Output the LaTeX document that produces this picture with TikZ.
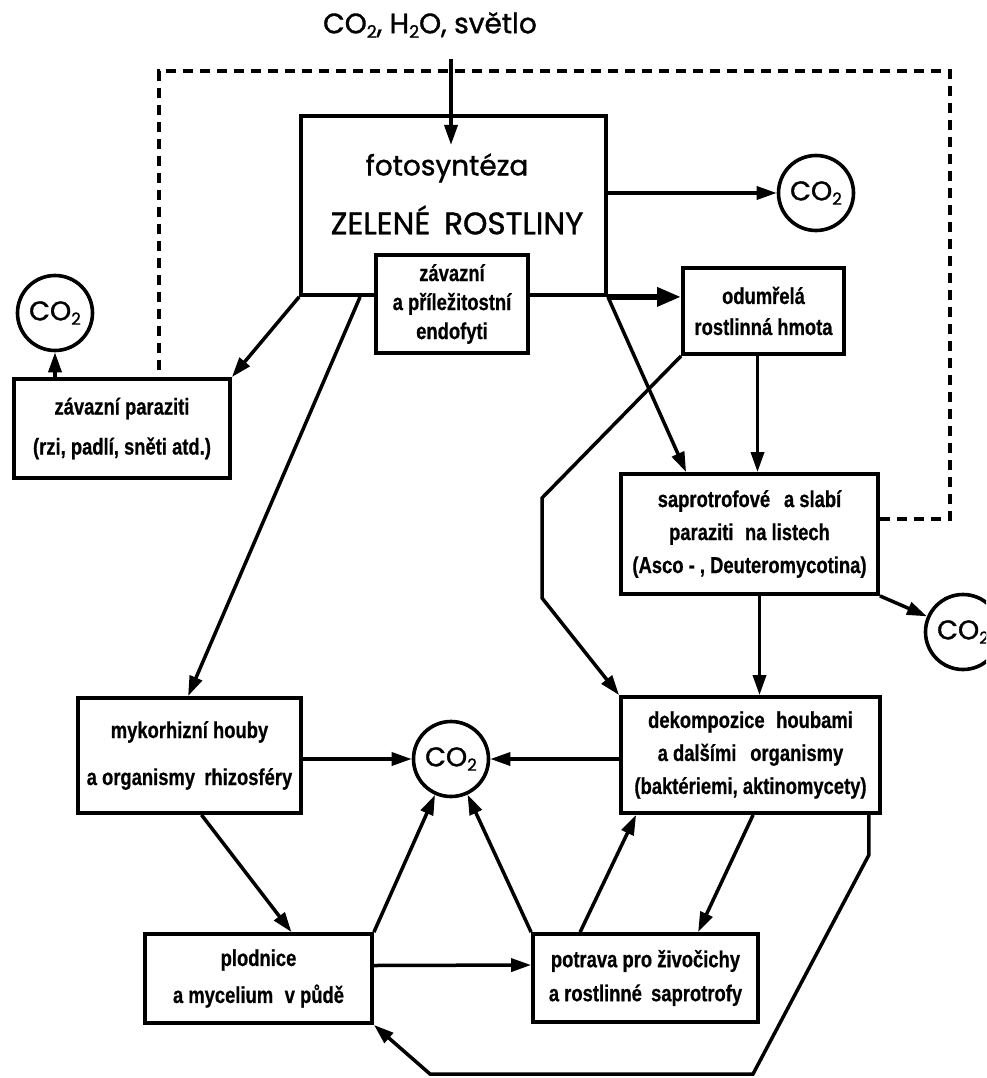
\documentclass[tikz,border=0pt]{standalone}
\usepackage{fontspec}
\usetikzlibrary{arrows.meta,calc}
\newfontfamily\geo[FakeBold=1.2]{Poppins}
\newfontfamily\bx[FakeStretch=0.8,FakeBold=0.6]{Liberation Sans}
\newcommand\subtwo{\raisebox{-0.3ex}{\scalebox{0.62}{2}}}
\begin{document}
\begin{tikzpicture}[x=1pt,y=-1pt,
  box/.style={draw, line width=3.8pt, fill=white, inner sep=0pt, align=center,
    font=\bx\bfseries\fontsize{23}{32}\selectfont},
  co/.style={draw, circle, line width=3.6pt, minimum size=75pt, inner sep=0pt,
    font=\geo\fontsize{27}{30}\selectfont},
  arr/.style={line width=3.5pt, -{Triangle[length=20pt,width=13pt]}},
  dsh/.style={line width=3.5pt, dash pattern=on 10pt off 7pt},
  geotext/.style={inner sep=0pt, font=\geo\fontsize{28}{30}\selectfont}]
\clip (0,0) rectangle (986,1078);
\fill[white] (0,0) rectangle (986,1078);

% title
\node[geotext] (tit) at (430,25) {CO\subtwo, H\subtwo O, světlo};
\coordinate (t1) at (451,59);
\coordinate (t2) at (451,145);

% dashed feedback end
\coordinate (d4) at (159,376);

% main box
\node[box, minimum width=305pt, minimum height=179pt] (zr) at (453.5,205.5) {};
\node[geotext] (foto) at (447,168) {fotosyntéza};
\node[geotext, font=\geo\fontsize{31}{34}\selectfont] (zel) at (457,220) {ZELENÉ\hspace{0.45em}ROSTLINY};
\node[box, minimum width=152pt, minimum height=98pt, font=\bx\bfseries\fontsize{23}{29}\selectfont] (endo) at (452,304) {závazní\\a příležitostní\\endofyti};

\node[box, minimum width=161pt, minimum height=86pt, font=\bx\bfseries\fontsize{23}{31}\selectfont] (odum) at (763.5,311) {odumřelá\\rostlinná hmota};
\node[box, minimum width=257pt, minimum height=120pt, font=\bx\bfseries\fontsize{23}{33}\selectfont] (sapro) at (749.5,534) {saprotrofové\hspace{0.6em}a slabí\\paraziti\hspace{0.5em}na listech\\(Asco - , Deuteromycotina)};
\node[box, minimum width=259pt, minimum height=116pt, font=\bx\bfseries\fontsize{23}{33}\selectfont] (dekomp) at (750.5,755) {dekompozice\hspace{0.5em}houbami\\a dalšími\hspace{0.6em}organismy\\(baktériemi, aktinomycety)};
\node[box, minimum width=223pt, minimum height=115pt, font=\bx\bfseries\fontsize{23}{47}\selectfont] (myko) at (189.5,755.5) {mykorhizní houby\\a organismy\hspace{0.4em}rhizosféry};
\node[box, minimum width=216pt, minimum height=99pt, font=\bx\bfseries\fontsize{23}{40}\selectfont] (paraz) at (122,428.5) {závazní paraziti\\(rzi, padlí, sněti atd.)};
\node[box, minimum width=227pt, minimum height=89pt, font=\bx\bfseries\fontsize{23}{37}\selectfont] (plod) at (258.5,978.5) {plodnice\\a mycelium\hspace{0.5em}v půdě};
\node[box, minimum width=225pt, minimum height=88pt, font=\bx\bfseries\fontsize{23}{34}\selectfont] (pot) at (645.5,978) {potrava pro živočichy\\a rostlinné\hspace{0.4em}saprotrofy};

% CO2 circles
\node[co] (co2a) at (816,193) {CO\subtwo};
\node[co] (co2l) at (55,313) {CO\subtwo};
\node[co] (co2r) at (963,632) {CO\subtwo};
\node[co] (co2c) at (451,759) {CO\subtwo};

% connectors
\draw[arr] (t1) -- (t2);
\draw[dsh] (sapro.east |- 0,519) -- (950,519) -- (950,71) -- (159,71) -- (d4);
\draw[arr] (zr.east |- co2a) -- (co2a);
\draw[line width=6.5pt, -{Triangle[length=24pt,width=18pt]}] (zr.south east) -- (zr.south east -| odum.west);
\draw[arr] (zr.south east) -- ($(sapro.north west)+(67,0)$);
\coordinate (o5) at ($(odum.south)+(-6,0)$);
\draw[arr] (o5) -- (o5 |- sapro.north);
\draw[arr] (odum.south west) -- (542,498) -- (542,598) -- (dekomp.north west);
\draw[arr] (sapro.south east) -- (co2r);
\coordinate (s9) at ($(sapro.south)+(10,0)$);
\draw[arr] (s9) -- (s9 |- dekomp.north);
\draw[arr] (zr.south west) -- (paraz.north east);
\draw[arr] (co2l.south |- paraz.north) -- (co2l.south);
\draw[arr] ($(zr.south west)+(61,0)$) -- ($(myko.north west)+(112,0)$);
\draw[arr] (dekomp.west |- co2c) -- (co2c);
\draw[arr] (myko.east |- co2c) -- (co2c);
\draw[arr] ($(myko.south)+(12,0)$) -- ($(plod.north)+(33,0)$);
\draw[arr] (plod.north east) -- (co2c);
\draw[arr] (pot.north west) -- (co2c);
\draw[arr] ($(plod.east)+(0,-13)$) -- ($(pot.west)+(0,-13)$);
\draw[arr] ($(pot.north west)+(49,0)$) -- ($(dekomp.south west)+(17,0)$);
\draw[arr] ($(dekomp.south west)+(134,0)$) -- ($(pot.north west)+(167,0)$);
\draw[arr] ($(dekomp.south east)+(-13,0)$) -- ++(0,40) -- (753,1074) -- (430,1074) -- (plod.south east);
\end{tikzpicture}
\end{document}
